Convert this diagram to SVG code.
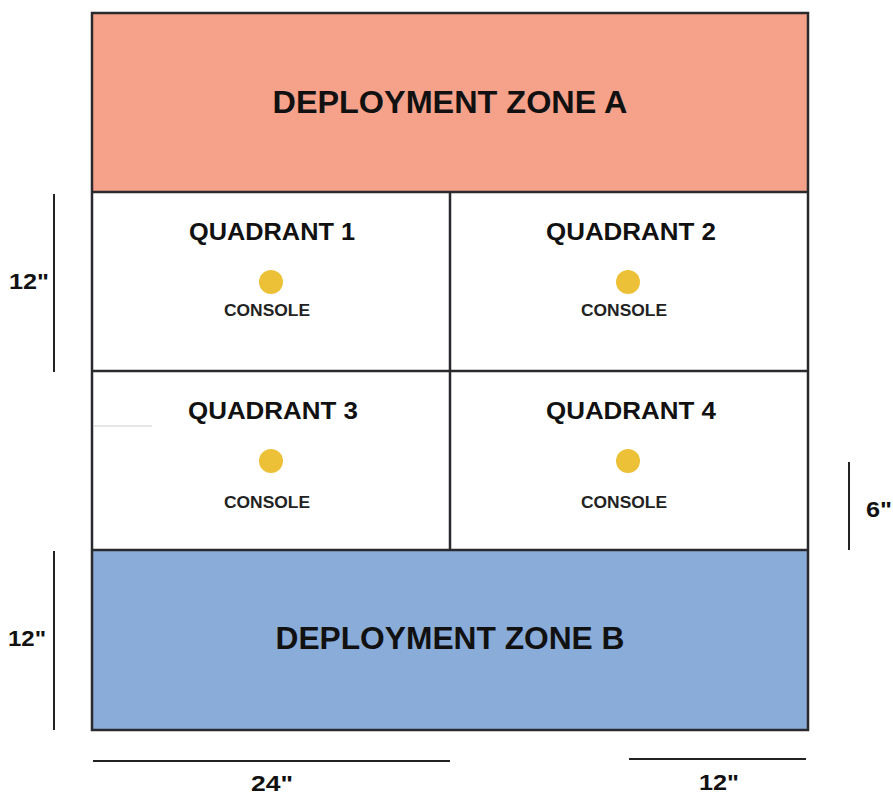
<svg xmlns="http://www.w3.org/2000/svg" width="893" height="796" viewBox="0 0 893 796">
<style>
.frame{fill:none;stroke:#2a2a2e;stroke-width:2.5}
.div{stroke:#2a2a2e;stroke-width:2.5;fill:none}
.dim{stroke:#222;stroke-width:2;fill:none}
.zone{font-family:"Liberation Sans",Arial,sans-serif;font-weight:bold;font-size:31px;fill:#111;text-anchor:middle}
.quad{font-family:"Liberation Sans",Arial,sans-serif;font-weight:bold;font-size:23px;fill:#111;text-anchor:middle}
.con{font-family:"Liberation Sans",Arial,sans-serif;font-weight:bold;font-size:16px;fill:#222;text-anchor:middle}
.lbl{font-family:"Liberation Sans",Arial,sans-serif;font-weight:bold;font-size:22px;fill:#111;text-anchor:middle}
.dot{fill:#EDC137}
</style>
<rect width="893" height="796" fill="#ffffff"/>
<g id="zoneA">
<rect x="92" y="13" width="716" height="179" fill="#F6A28A"/>
<text class="zone" x="450" y="113" textLength="355" lengthAdjust="spacingAndGlyphs">DEPLOYMENT ZONE A</text>
</g>
<g id="zoneB">
<rect x="92" y="550" width="716" height="180" fill="#8AACD9"/>
<text class="zone" x="450" y="649" textLength="349" lengthAdjust="spacingAndGlyphs">DEPLOYMENT ZONE B</text>
</g>
<g id="q1">
<text class="quad" x="272" y="240" textLength="166" lengthAdjust="spacingAndGlyphs">QUADRANT 1</text>
<circle class="dot" cx="271" cy="282" r="12"/>
<text class="con" x="267" y="316" textLength="86" lengthAdjust="spacingAndGlyphs">CONSOLE</text>
</g>
<g id="q2">
<text class="quad" x="631" y="240" textLength="170" lengthAdjust="spacingAndGlyphs">QUADRANT 2</text>
<circle class="dot" cx="628" cy="282" r="12"/>
<text class="con" x="624" y="316" textLength="86" lengthAdjust="spacingAndGlyphs">CONSOLE</text>
</g>
<g id="q3">
<text class="quad" x="273" y="419" textLength="170" lengthAdjust="spacingAndGlyphs">QUADRANT 3</text>
<circle class="dot" cx="271" cy="461" r="12"/>
<text class="con" x="267" y="508" textLength="86" lengthAdjust="spacingAndGlyphs">CONSOLE</text>
</g>
<g id="q4">
<text class="quad" x="631" y="419" textLength="170" lengthAdjust="spacingAndGlyphs">QUADRANT 4</text>
<circle class="dot" cx="628" cy="461" r="12"/>
<text class="con" x="624" y="508" textLength="86" lengthAdjust="spacingAndGlyphs">CONSOLE</text>
</g>
<g id="connectors">
<rect class="frame" x="92" y="13" width="716" height="717"/>
<line class="div" x1="92" y1="192" x2="808" y2="192"/>
<line class="div" x1="92" y1="371" x2="808" y2="371"/>
<line class="div" x1="92" y1="550" x2="808" y2="550"/>
<line class="div" x1="450" y1="192" x2="450" y2="550"/>
<line x1="94" y1="426" x2="152" y2="426" stroke="#e6e6e6" stroke-width="2"/>
<line class="dim" x1="54" y1="194" x2="54" y2="372"/>
<line class="dim" x1="54" y1="551" x2="54" y2="730"/>
<line class="dim" x1="849" y1="462" x2="849" y2="550"/>
<line class="dim" x1="93" y1="761" x2="450" y2="761"/>
<line class="dim" x1="629" y1="759" x2="806" y2="759"/>
</g>
<g id="labels">
<text class="lbl" x="29" y="289" textLength="40" lengthAdjust="spacingAndGlyphs">12"</text>
<text class="lbl" x="27" y="646" textLength="38" lengthAdjust="spacingAndGlyphs">12"</text>
<text class="lbl" x="879" y="517" textLength="26" lengthAdjust="spacingAndGlyphs">6"</text>
<text class="lbl" x="272" y="791" textLength="42" lengthAdjust="spacingAndGlyphs">24"</text>
<text class="lbl" x="719" y="790" textLength="40" lengthAdjust="spacingAndGlyphs">12"</text>
</g>
</svg>
